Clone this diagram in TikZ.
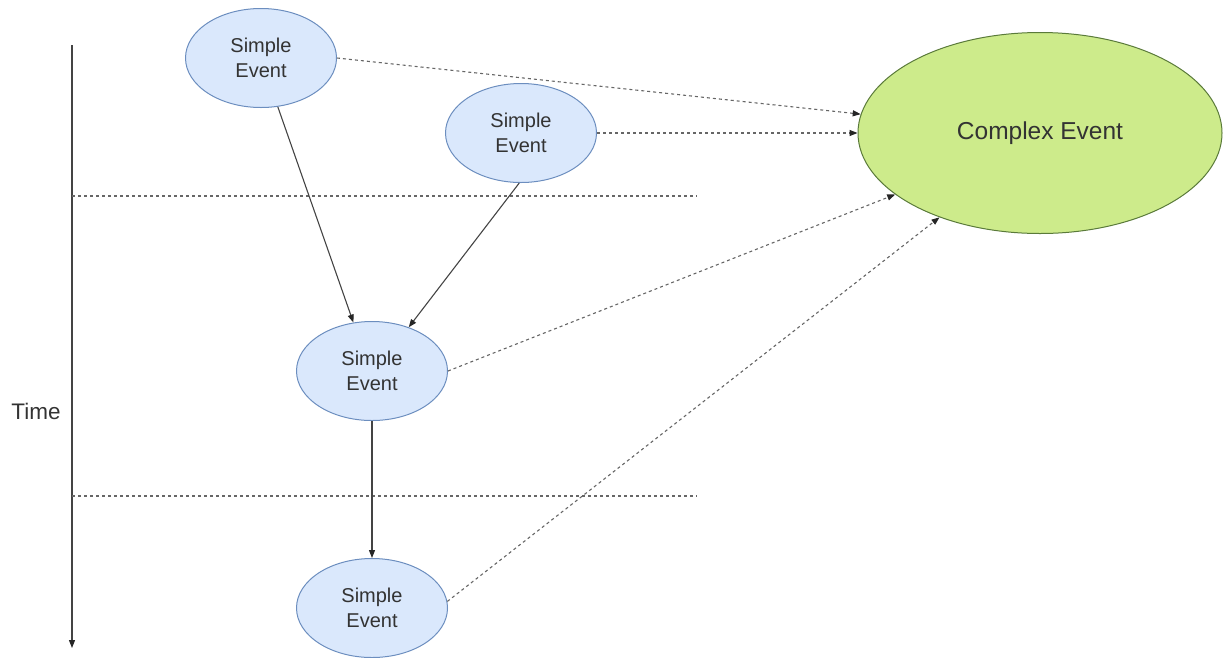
\documentclass[tikz,border=0pt]{standalone}
\usepackage{fontspec}
\setmainfont{Liberation Sans}
\usetikzlibrary{arrows.meta,shapes.geometric}
\definecolor{simplefill}{HTML}{DAE8FC}
\definecolor{simpledraw}{HTML}{6C8EBF}
\definecolor{complexfill}{HTML}{CDEB8B}
\definecolor{complexdraw}{HTML}{5A7A3A}
\definecolor{textcol}{HTML}{333333}
\definecolor{linecol}{HTML}{444444}
\definecolor{dashcol}{HTML}{666666}
\begin{document}
\begin{tikzpicture}[x=1pt,y=-1pt,
  simple/.style={ellipse,draw=simpledraw,fill=simplefill,line width=1pt,
    minimum width=151pt,minimum height=99pt,inner sep=0pt,text=textcol,
    align=center,font=\fontsize{20}{25}\selectfont},
  complex/.style={ellipse,draw=complexdraw,fill=complexfill,line width=1pt,
    minimum width=364pt,minimum height=201pt,inner sep=0pt,text=textcol,
    font=\fontsize{24.5}{28}\selectfont},
  tip/.style={-{Triangle[length=8pt,width=6pt,color=black!85]}},
  flow/.style={tip,draw=linecol,line width=1.1pt},
  feed/.style={tip,draw=dashcol,line width=1.1pt,dash pattern=on 3pt off 3pt},
  sep/.style={draw=dashcol,line width=1.1pt,dash pattern=on 3pt off 3pt}]
\useasboundingbox (0,0) rectangle (1226,657);

% time axis and period separators
\coordinate (ttop) at (72,45);
\coordinate (tbot) at (72,648);
\draw[tip,draw=linecol,line width=1.1pt] (ttop) -- (tbot);
\node[font=\fontsize{22.5}{26}\selectfont,text=textcol] (time) at (36,411) {Time};
\coordinate (s1a) at (72,196);
\coordinate (s1b) at (697,196);
\coordinate (s2a) at (72,496);
\coordinate (s2b) at (697,496);
\draw[sep] (s1a) -- (s1b);
\draw[sep] (s2a) -- (s2b);

% events
\node[simple] (e1) at (261,58) {Simple\\Event};
\node[simple] (e2) at (521,133) {Simple\\Event};
\node[simple] (e3) at (372,371) {Simple\\Event};
\node[simple] (e4) at (372,608) {Simple\\Event};
\node[complex] (cx) at (1040,133) {Complex Event};

% causal links
\draw[flow] (e1.-71.6) -- (e3.111.4);
\draw[flow] (e2.-92) -- (e3.50.7);
\draw[flow] (e3.south) -- (e4.north);

% contributions to the complex event
\draw[feed] (e1.east) -- (cx.174.3);
\draw[feed] (e2.east) -- (cx.west);
\draw[feed] (e3.east) -- (cx.-157.9);
\draw[feed] (e4.5) -- (cx.-140.4);
\end{tikzpicture}
\end{document}
